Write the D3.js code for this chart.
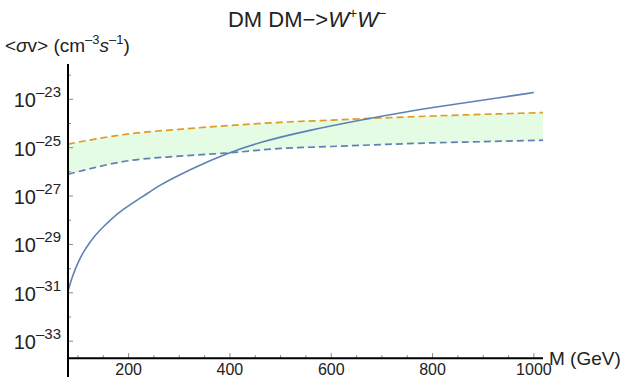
<!DOCTYPE html>
<html><head><meta charset="utf-8">
<script src="https://cdn.jsdelivr.net/npm/d3@7"></script>
<style>body{margin:0;background:#fff}svg{display:block}text{font-family:"Liberation Sans",Arial,sans-serif}</style>
</head><body><svg id="c" width="630" height="392"></svg>
<script>
// Solid curve: log10 <σv> vs M (GeV)
const solidM = [80.4, 84.3, 90.3, 100.1, 114, 133.7, 153.4, 179.1, 198.8, 232.4, 262, 301.5, 341, 386.3, 459.4, 558.1, 656.8, 755.5, 854.2, 933.1, 1000];
const solidLog = [-30.92, -30.64, -30.26, -29.73, -29.19, -28.61, -28.2, -27.7, -27.41, -26.96, -26.54, -26.11, -25.72, -25.3, -24.76, -24.27, -23.86, -23.48, -23.17, -22.93, -22.72];
// Band bounds (log10 <σv>)
const bandM = [80.4, 200, 300, 400, 500, 600, 700, 800, 900, 1018];
const upperLog = [-24.85, -24.43, -24.24, -24.08, -23.95, -23.86, -23.77, -23.69, -23.62, -23.55];
const lowerLog = [-26.1, -25.54, -25.35, -25.21, -25.03, -24.95, -24.87, -24.8, -24.75, -24.69];
// Axis ticks
const xMajor = [200, 400, 600, 800, 1000];
const xMinor = [100, 150, 250, 300, 350, 450, 500, 550, 650, 700, 750, 850, 900, 950];
const yMajorExp = [-23, -25, -27, -29, -31, -33];
const yMinorExp = [-22, -24, -26, -28, -30, -32];

const svg = d3.select("#c");
const x = d3.scaleLinear().domain([80.4, 1018]).range([68, 543]);
const y = d3.scaleLog().domain([Math.pow(10, -34.48), Math.pow(10, -21.54)]).range([377, 64]);
const xAxisY = y(Math.pow(10, -33.7));

const solid = solidM.map((m, i) => [m, Math.pow(10, solidLog[i])]);
const band = bandM.map((m, i) => [m, Math.pow(10, lowerLog[i]), Math.pow(10, upperLog[i])]);

svg.append("path")
  .attr("d", d3.area().x(d => x(d[0])).y0(d => y(d[1])).y1(d => y(d[2])).curve(d3.curveMonotoneX)(band))
  .attr("fill", "#e3fce3").attr("stroke", "none");

svg.append("path").attr("d", d3.line().x(d => x(d[0])).y(d => y(d[2])).curve(d3.curveMonotoneX)(band))
  .attr("fill", "none").attr("stroke", "#e19c24").attr("stroke-width", 1.7).attr("stroke-dasharray", "7,4");
svg.append("path").attr("d", d3.line().x(d => x(d[0])).y(d => y(d[1])).curve(d3.curveMonotoneX)(band))
  .attr("fill", "none").attr("stroke", "#5e81b5").attr("stroke-width", 1.7).attr("stroke-dasharray", "7,4");
svg.append("path").attr("d", d3.line().x(d => x(d[0])).y(d => y(d[1])).curve(d3.curveBasis)(solid))
  .attr("fill", "none").attr("stroke", "#5e81b5").attr("stroke-width", 1.6);

const tickCol = "#888";
xMinor.forEach(v => svg.append("line").attr("x1", x(v)).attr("x2", x(v)).attr("y1", xAxisY).attr("y2", xAxisY - 3).attr("stroke", tickCol));
xMajor.forEach(v => svg.append("line").attr("x1", x(v)).attr("x2", x(v)).attr("y1", xAxisY).attr("y2", xAxisY - 5).attr("stroke", tickCol));
yMinorExp.forEach(e => svg.append("line").attr("x1", 68).attr("x2", 71).attr("y1", y(Math.pow(10, e))).attr("y2", y(Math.pow(10, e))).attr("stroke", tickCol));
yMajorExp.forEach(e => svg.append("line").attr("x1", 68).attr("x2", 73).attr("y1", y(Math.pow(10, e))).attr("y2", y(Math.pow(10, e))).attr("stroke", tickCol));

svg.append("line").attr("x1", x.range()[0] - 1).attr("x2", x.range()[1]).attr("y1", xAxisY).attr("y2", xAxisY).attr("stroke", "#000").attr("stroke-width", 2);
svg.append("line").attr("x1", 68).attr("x2", 68).attr("y1", y.range()[0]).attr("y2", y.range()[1]).attr("stroke", "#000").attr("stroke-width", 2);

xMajor.forEach(v => svg.append("text").attr("x", x(v)).attr("y", xAxisY + 17).attr("text-anchor", "middle").attr("font-size", 16).attr("fill", "#222").text(v));
yMajorExp.forEach(e => {
  const t = svg.append("text").attr("x", 61).attr("y", y(Math.pow(10, e)) + 8).attr("text-anchor", "end").attr("font-size", 20).attr("fill", "#222");
  t.append("tspan").text("10");
  t.append("tspan").attr("dy", -10).attr("font-size", 15).text("\u2013" + Math.abs(e));
});

svg.append("text").attr("x", 549).attr("y", xAxisY + 7).attr("font-size", 19).attr("fill", "#222").text("M (GeV)");
const yl = svg.append("text").attr("x", 5).attr("y", 52).attr("font-size", 19).attr("fill", "#222");
yl.append("tspan").text("<");
yl.append("tspan").attr("font-style", "italic").text("\u03c3");
yl.append("tspan").text("v> (cm");
yl.append("tspan").attr("dy", -8).attr("font-size", 13).text("\u20133");
yl.append("tspan").attr("dy", 8).attr("font-style", "italic").text("s");
yl.append("tspan").attr("dy", -8).attr("font-size", 13).text("\u20131");
yl.append("tspan").attr("dy", 8).text(")");

const tt = svg.append("text").attr("x", 307).attr("y", 27).attr("text-anchor", "middle").attr("font-size", 22).attr("fill", "#222");
tt.append("tspan").text("DM DM\u2212>");
tt.append("tspan").attr("font-style", "italic").text("W");
tt.append("tspan").attr("dy", -9).attr("font-size", 14).text("+");
tt.append("tspan").attr("dy", 9).attr("font-style", "italic").text("W");
tt.append("tspan").attr("dy", -9).attr("font-size", 14).text("\u2212");
</script></body></html>
